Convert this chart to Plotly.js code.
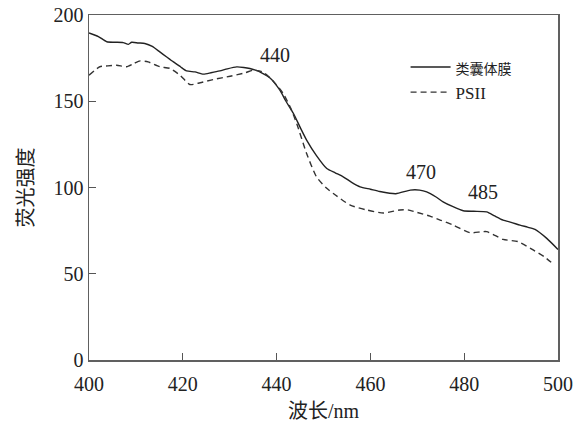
<!DOCTYPE html>
<html>
<head>
<meta charset="utf-8">
<script src="https://cdn.plot.ly/plotly-3.0.1.min.js"></script>
<style>html,body{margin:0;padding:0;background:#fff;}#chart{width:573px;height:428px;}</style>
</head>
<body>
<div id="chart"></div>
<script>
// 类囊体膜 (solid)
const thylakoidX = [400, 402, 403.8, 405.5, 407.3, 408.4, 409.1, 410.5, 411.9, 413.5, 415.1, 416.5, 418, 419.5, 420.8, 422.6, 424.4, 426, 427.9, 429.5, 431.5, 433, 434.3, 435.5, 436.8, 438.6, 440.7, 442, 443.6, 445, 446.4, 448.5, 450.7, 452.5, 454.2, 456, 457.8, 460, 462, 465.4, 468.5, 470.5, 472, 474, 475.5, 477.5, 479.8, 482, 484.8, 486.5, 488.3, 490, 491.9, 493.5, 495.1, 497.6, 500];
const thylakoidY = [189.6, 187.5, 184.5, 184.2, 184, 183, 184.2, 183.8, 183.5, 181.8, 178.6, 175.8, 172.8, 170, 167.6, 167, 165.7, 166.5, 167.6, 168.8, 169.9, 169.6, 169, 168, 166.5, 163.5, 156.4, 150, 142.9, 135, 127.5, 118.5, 111, 108.5, 106.2, 103, 100.4, 99, 97.7, 96.4, 98.5, 98.5, 97.5, 94.5, 91.7, 89, 86.5, 86.2, 85.9, 83.5, 81.1, 79.8, 78.2, 77, 75.7, 70.5, 64.1];
// PSII (dashed)
const psiiX = [400, 402.3, 404, 405.9, 408, 409.5, 410.9, 412.6, 415.1, 417.3, 419.4, 421.5, 423.7, 426.5, 430.1, 433.3, 435, 437, 439, 441.4, 443, 444.3, 446.4, 448.5, 450.5, 452.1, 455.7, 459.2, 462.8, 466.3, 468, 470, 472.7, 475, 477.7, 481.2, 484.8, 488.3, 491.5, 494.7, 497, 499];
const psiiY = [165.1, 170, 170.5, 170.9, 170, 171.8, 173.4, 172.8, 170, 169, 165.1, 159.7, 160.7, 162.6, 164.5, 166.5, 168, 167, 162.5, 154.5, 146, 137, 119.7, 106.2, 100, 96.5, 89.8, 87.0, 85.2, 87, 87, 85.5, 83.4, 81, 78.2, 73.8, 74.4, 69.9, 68.6, 63.8, 60, 55.6];

const seriesNames = ['类囊体膜', 'PSII'];
const xTicks = [400, 420, 440, 460, 480, 500];
const yTicks = [0, 50, 100, 150, 200];
const peakLabels = ['440', '470', '485'];
const peakX = [439.7, 470.8, 484];
const peakY = [176.7, 108.9, 97.3];

const serif = "'Liberation Serif', 'Times New Roman', 'Noto Sans CJK SC', serif";
const txt = '#222';

const traces = [
  {x: thylakoidX, y: thylakoidY, name: '<span style="font-size:14px">' + seriesNames[0] + '</span>', mode: 'lines', line: {color: '#222', width: 1.4, shape: 'spline', smoothing: 0.6}},
  {x: psiiX, y: psiiY, name: seriesNames[1], mode: 'lines', line: {color: '#333', width: 1.4, dash: '6px,4px', shape: 'spline', smoothing: 0.6}}
];

const annotations = peakLabels.map((t, i) => ({
  x: peakX[i], y: peakY[i], xref: 'x', yref: 'y', text: t, showarrow: false,
  font: {family: serif, size: 20, color: txt}, xanchor: 'center', yanchor: 'middle'
}));

const layout = {
  width: 573, height: 428,
  margin: {l: 89, r: 15, t: 15, b: 68},
  paper_bgcolor: '#fff', plot_bgcolor: '#fff',
  showlegend: true,
  legend: {x: 0.675, y: 0.9, xanchor: 'left', yanchor: 'top', bgcolor: 'rgba(0,0,0,0)',
           font: {family: serif, size: 17, color: txt}, tracegroupgap: 0, itemwidth: 40},
  xaxis: {
    range: [400, 500], tickvals: xTicks, ticktext: xTicks.map(String),
    ticks: 'inside', ticklen: 7, tickwidth: 1.2, tickcolor: '#555',
    showline: true, linecolor: '#606060', linewidth: 1.5, mirror: true,
    showgrid: false, zeroline: false, ticklabelstandoff: 5,
    tickfont: {family: serif, size: 20, color: txt},
    title: {text: '波长/nm', font: {family: serif, size: 20, color: txt}, standoff: 10}
  },
  yaxis: {
    range: [0, 200], tickvals: yTicks, ticktext: yTicks.map(String),
    ticks: 'inside', ticklen: 7, tickwidth: 1.2, tickcolor: '#555',
    showline: true, linecolor: '#606060', linewidth: 1.5, mirror: true,
    showgrid: false, zeroline: false,
    tickfont: {family: serif, size: 20, color: txt},
    title: {text: '荧光强度', font: {family: serif, size: 20, color: txt}, standoff: 14}
  },
  annotations: annotations
};

Plotly.newPlot('chart', traces, layout, {displayModeBar: false, staticPlot: true});
</script>
</body>
</html>
